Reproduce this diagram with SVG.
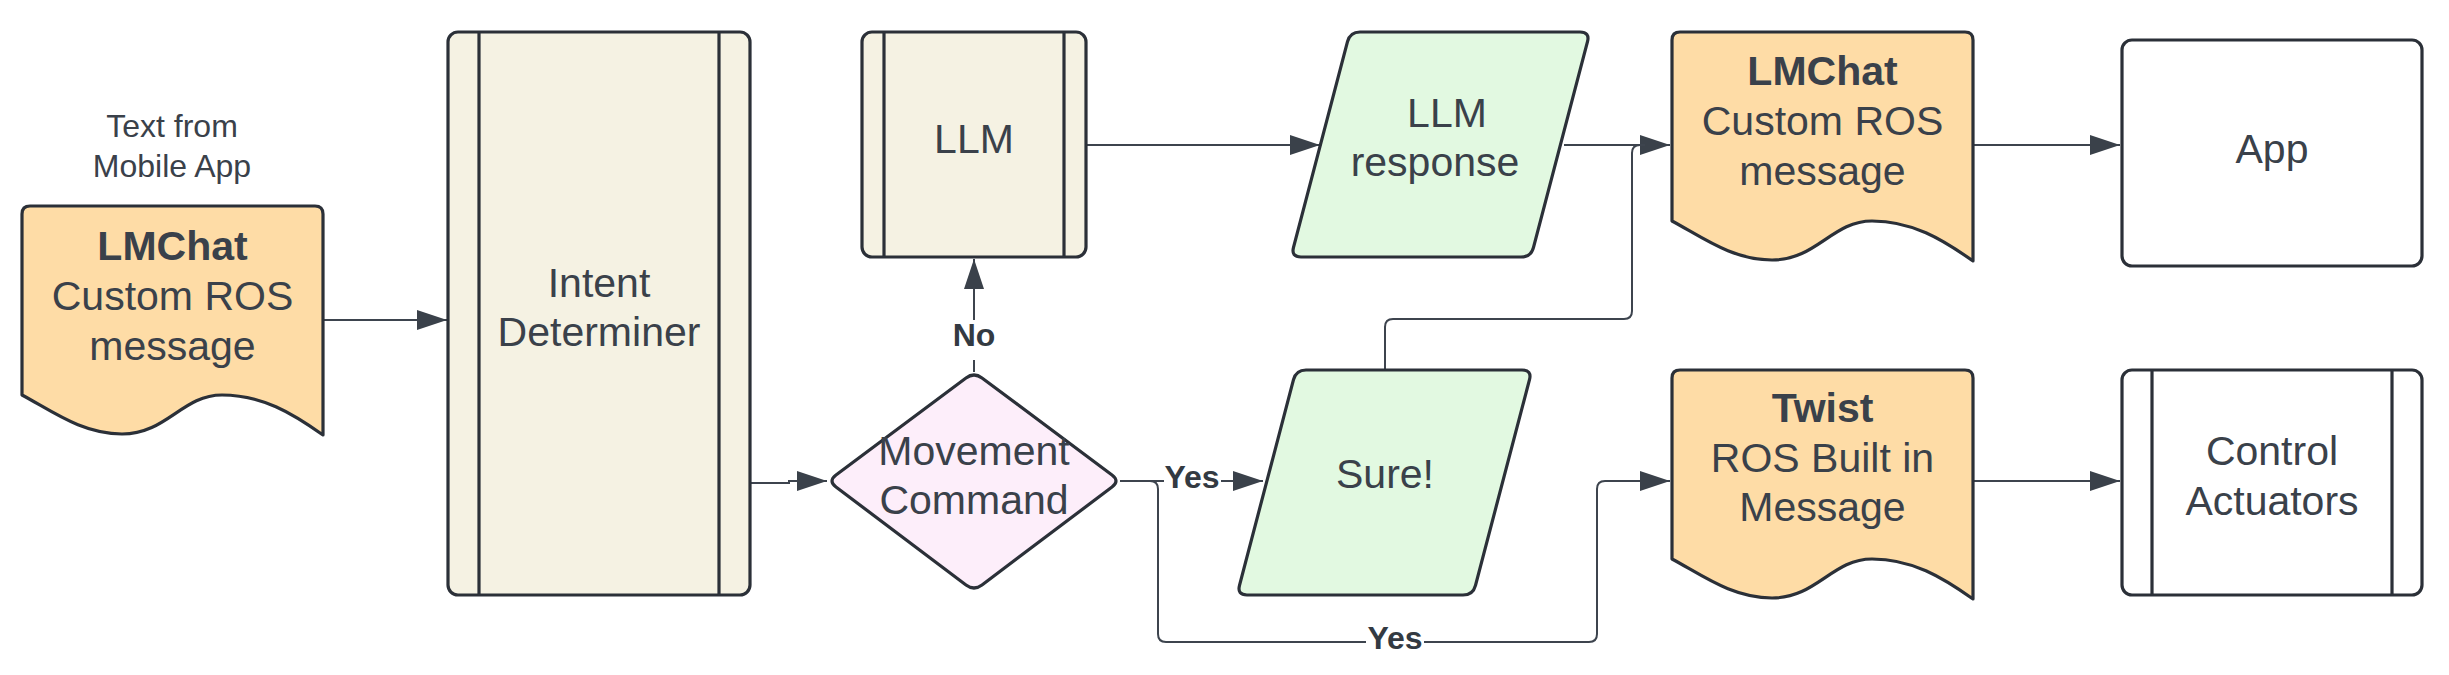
<svg xmlns="http://www.w3.org/2000/svg" width="2449" height="675" viewBox="0 0 2449 675">
<style>
text{font-family:"Liberation Sans",Arial,Helvetica,sans-serif;fill:#3a414a;text-anchor:middle}
.t{font-size:41px}
.b{font-weight:bold}
.lbl{font-size:32px;font-weight:bold;fill:#333a42}
.sm{font-size:32px}
.shape{stroke:#2b3038;stroke-width:3.2;stroke-linejoin:round}
.doc{fill:#fedca6}
.cream{fill:#f5f2e3}
.green{fill:#e2f9e1}
.pink{fill:#fdeefa}
.white{fill:#ffffff}
.inner{stroke:#2b3038;stroke-width:3.2;fill:none}
.con{fill:none;stroke:#3d444e;stroke-width:2}
</style>
<defs>
<marker id="arr" markerUnits="userSpaceOnUse" markerWidth="31" markerHeight="21" refX="30" refY="10" orient="auto">
<path d="M0,0 L30,10 L0,20 Z" fill="#3a414a"/>
</marker>
<path id="docshape" d="M0,189 V8 Q0,0 8,0 H293 Q301,0 301,8 V229 C270,207 240,189 200,189 C160,189 145,228 100,228 C60,228 30,205 0,189 Z"/>
</defs>

<g id="connectors">
<path class="con" d="M323,320 H447" marker-end="url(#arr)"/>
<path class="con" d="M751,483 H789 V481 H827" marker-end="url(#arr)"/>
<path class="con" d="M974,372 V259" marker-end="url(#arr)"/>
<path class="con" d="M1086,145 H1320" marker-end="url(#arr)"/>
<path class="con" d="M1564,145 H1670" marker-end="url(#arr)"/>
<path class="con" d="M1385,370 V327 Q1385,319 1393,319 H1624 Q1632,319 1632,311 V153 Q1632,145 1640,145 H1645"/>
<path class="con" d="M1120,481 H1263" marker-end="url(#arr)"/>
<path class="con" d="M1120,481 H1150 Q1158,481 1158,489 V634 Q1158,642 1166,642 H1589 Q1597,642 1597,634 V489 Q1597,481 1605,481 H1670" marker-end="url(#arr)"/>
<path class="con" d="M1973,145 H2120" marker-end="url(#arr)"/>
<path class="con" d="M1973,481 H2120" marker-end="url(#arr)"/>
<rect x="952" y="320" width="44" height="40" fill="#ffffff"/>
<text class="lbl" x="974" y="346">No</text>
<rect x="1164" y="464" width="57" height="32" fill="#ffffff"/>
<text class="lbl" x="1192" y="488">Yes</text>
<rect x="1366" y="622" width="58" height="34" fill="#ffffff"/>
<text class="lbl" x="1395" y="649">Yes</text>
</g>

<g id="label-text-from">
<text class="sm" x="172" y="137">Text from</text>
<text class="sm" x="172" y="177">Mobile App</text>
</g>

<g id="lmchat-in" transform="translate(22,206)">
<use href="#docshape" class="shape doc"/>
<text class="t b" x="150.5" y="54">LMChat</text>
<text class="t" x="150.5" y="104">Custom ROS</text>
<text class="t" x="150.5" y="154">message</text>
</g>

<g id="intent">
<rect class="shape cream" x="448" y="32" width="302" height="563" rx="10"/>
<line class="inner" x1="479" y1="32" x2="479" y2="595"/>
<line class="inner" x1="719" y1="32" x2="719" y2="595"/>
<text class="t" x="599" y="297">Intent</text>
<text class="t" x="599" y="346">Determiner</text>
</g>

<g id="llm">
<rect class="shape cream" x="862" y="32" width="224" height="225" rx="10"/>
<line class="inner" x1="884" y1="32" x2="884" y2="257"/>
<line class="inner" x1="1064" y1="32" x2="1064" y2="257"/>
<text class="t" x="974" y="153">LLM</text>
</g>

<g id="decision">
<path class="shape pink" d="M966,378 Q974,372 982,378 L1112,475 Q1120,481 1112,487 L982,585 Q974,591 966,585 L836,487 Q828,481 836,475 Z"/>
<text class="t" x="974" y="465">Movement</text>
<text class="t" x="974" y="514">Command</text>
</g>

<g id="llm-response">
<path class="shape green" d="M1360,32 H1580 Q1590,32 1587.5,41.7 L1533.5,247.3 Q1531,257 1521,257 H1301 Q1291,257 1293.5,247.3 L1347.5,41.7 Q1350,32 1360,32 Z"/>
<text class="t" x="1447" y="127">LLM</text>
<text class="t" x="1435" y="176">response</text>
</g>

<g id="sure">
<path class="shape green" d="M1306,370 H1522 Q1532,370 1529.5,379.7 L1475.5,585.3 Q1473,595 1463,595 H1247 Q1237,595 1239.5,585.3 L1293.5,379.7 Q1296,370 1306,370 Z"/>
<text class="t" x="1385" y="488">Sure!</text>
</g>

<g id="lmchat-out" transform="translate(1672,32)">
<use href="#docshape" class="shape doc"/>
<text class="t b" x="150.5" y="53">LMChat</text>
<text class="t" x="150.5" y="103">Custom ROS</text>
<text class="t" x="150.5" y="153">message</text>
</g>

<g id="twist" transform="translate(1672,370)">
<use href="#docshape" class="shape doc"/>
<text class="t b" x="150.5" y="52">Twist</text>
<text class="t" x="150.5" y="102">ROS Built in</text>
<text class="t" x="150.5" y="151">Message</text>
</g>

<g id="app">
<rect class="shape white" x="2122" y="40" width="300" height="226" rx="10"/>
<text class="t" x="2272" y="163">App</text>
</g>

<g id="control">
<rect class="shape white" x="2122" y="370" width="300" height="225" rx="10"/>
<line class="inner" x1="2152" y1="370" x2="2152" y2="595"/>
<line class="inner" x1="2392" y1="370" x2="2392" y2="595"/>
<text class="t" x="2272" y="465">Control</text>
<text class="t" x="2272" y="515">Actuators</text>
</g>
</svg>
